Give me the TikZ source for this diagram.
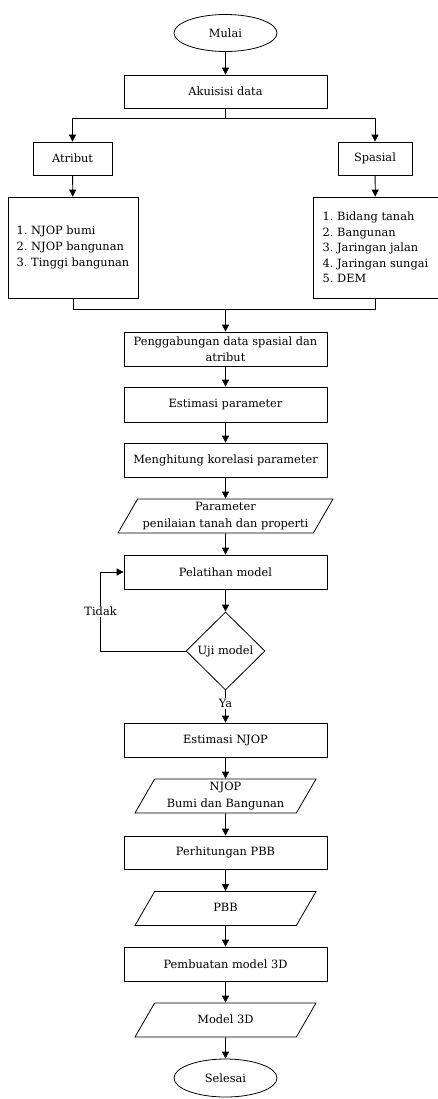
\documentclass[tikz,border=0pt]{standalone}
\usepackage{fontspec}
\setmainfont{DejaVu Serif}
\frenchspacing
\usetikzlibrary{shapes.geometric,arrows.meta}

\begin{document}
\begin{tikzpicture}[x=1pt,y=-1pt,line width=0.8pt,
		font=\fontsize{11.4}{16.5}\selectfont,
		proses/.style={draw,rectangle,minimum width=203pt,minimum height=34pt,inner sep=2pt,align=center},
		kecil/.style={draw,rectangle,minimum height=33pt,inner sep=2pt},
		daftar/.style={draw,rectangle,minimum height=101pt,inner sep=2pt,align=left,
			font=\fontsize{11.4}{15.6}\selectfont},
		terminal/.style={draw,ellipse,minimum width=103pt,minimum height=37pt,inner sep=0pt},
		data/.style={draw,trapezium,trapezium left angle=60,trapezium right angle=120,
			trapezium stretches body,inner xsep=1pt,align=center},
		data1/.style={data,text height=8.5pt,text depth=2.5pt,inner ysep=11.5pt},
		data2/.style={data,text height=24.5pt,text depth=2.5pt,inner ysep=3.5pt},
		keputusan/.style={draw,diamond,minimum width=79pt,minimum height=78pt,inner sep=0pt},
		label/.style={fill=white,inner sep=1pt},
		panah/.style={-{Triangle[length=7pt,width=7pt]}}]
		\useasboundingbox (0,0) rectangle (438,1099);

		\node[terminal] (mulai) at (225.5,33) {Mulai};
		\node[proses,minimum height=33pt] (akuisisi) at (225.5,91.5) {Akuisisi data};
		\node[kecil,minimum width=79pt] (atribut) at (72.5,158.5) {Atribut};
		\node[kecil,minimum width=74pt] (spasial) at (375,158.5) {Spasial};
		\node[daftar,minimum width=130pt] (listA) at (73,247.5)
			{1. NJOP bumi\\2. NJOP bangunan\\3. Tinggi bangunan};
		\node[daftar,minimum width=125pt] (listS) at (375.5,247.5)
			{1. Bidang tanah\\2. Bangunan\\3. Jaringan jalan\\4. Jaringan sungai\\5. DEM};
		\coordinate (gabungA) at (73,309);
		\coordinate (gabungS) at (375.5,309);
		\coordinate (gabungT) at (225.5,309);

		\node[proses] (gabung) at (225.5,349) {Penggabungan data spasial dan\\atribut};
		\node[proses,minimum height=35pt] (estpar) at (225.5,404.5) {Estimasi parameter};
		\node[proses] (korelasi) at (225.5,460) {Menghitung korelasi parameter};
		\node[data2,minimum width=215pt] (param) at (225.5,516) {Parameter\\penilaian tanah dan properti};
		\node[proses] (latih) at (225.5,572) {Pelatihan model};
		\node[keputusan] (uji) at (225.5,651) {Uji model};
		\node[proses] (estnjop) at (225.5,740) {Estimasi NJOP};
		\node[data2,minimum width=181pt] (njop) at (225.5,796) {NJOP\\Bumi dan Bangunan};
		\node[proses,minimum height=33pt] (hitung) at (225.5,852.5) {Perhitungan PBB};
		\node[data1,minimum width=181pt] (pbb) at (225.5,908.5) {PBB};
		\node[proses] (buat) at (225.5,964) {Pembuatan model 3D};
		\node[data1,minimum width=181pt] (model) at (225.5,1020) {Model 3D};
		\node[terminal,minimum height=38pt] (selesai) at (225.5,1078) {Selesai};

		\draw[panah] (mulai) -- (akuisisi);
		\draw[panah] (akuisisi.south) -- ++(0,10) -| (atribut.north);
		\draw[panah] (akuisisi.south) -- ++(0,10) -| (spasial.north);
		\draw[panah] (atribut) -- (listA);
		\draw[panah] (spasial) -- (listS);
		\draw (listA.south) -- (gabungA) -- (gabungS) -- (listS.south);
		\draw[panah] (gabungT) -- (gabung.north);
		\foreach \a/\b in {gabung/estpar,estpar/korelasi,korelasi/param,param/latih,latih/uji,
			estnjop/njop,njop/hitung,hitung/pbb,pbb/buat,buat/model,model/selesai}
		\draw[panah] (\a) -- (\b);
		\draw[panah] (uji.west) -- ++(-85,0) |- (latih.west) node[label,pos=0.25] {Tidak};
		\draw[panah] (uji.south) -- (estnjop.north) node[label,pos=0.4] {Ya};

	    \end{tikzpicture}
\end{document}
